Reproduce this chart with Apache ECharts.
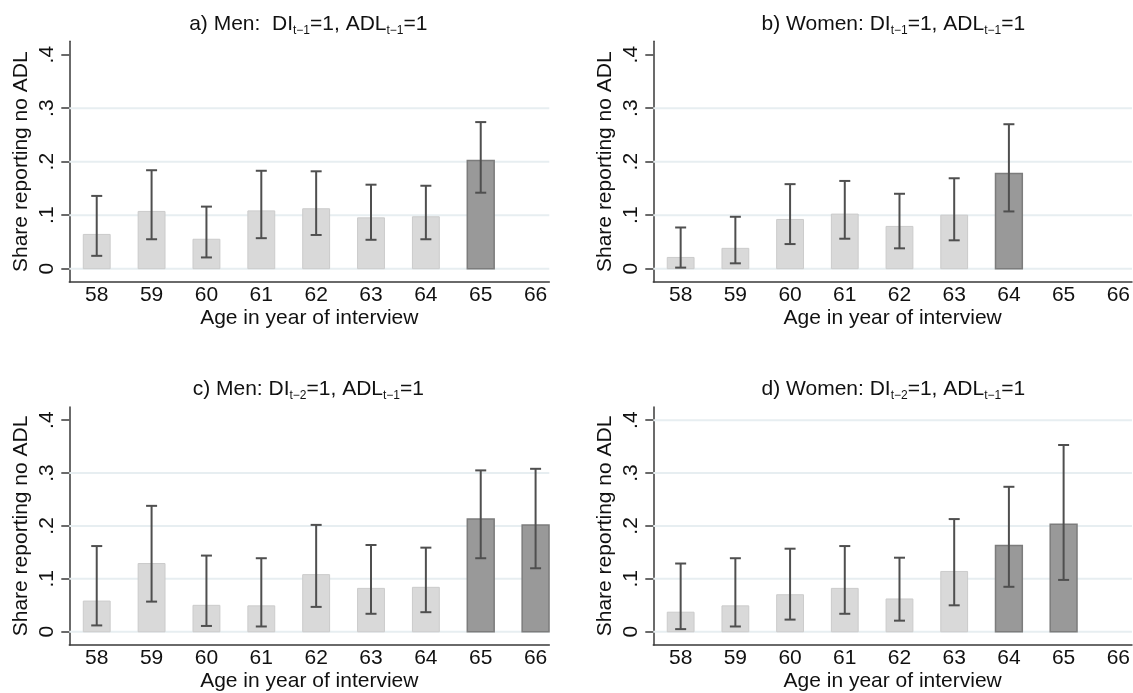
<!DOCTYPE html>
<html>
<head>
<meta charset="utf-8">
<script src="https://cdn.jsdelivr.net/npm/echarts@6/dist/echarts.min.js"></script>
<style>
  html, body { margin: 0; padding: 0; background: #ffffff; }
  #chart { width: 1133px; height: 693px; }
</style>
</head>
<body>
<div id="chart"></div>
<script>
// Ages on the horizontal axis of every panel
const ages = [58, 59, 60, 61, 62, 63, 64, 65, 66];
const yTicks = [0, 0.1, 0.2, 0.3, 0.4];

// a) Men, DI(t-1)=1, ADL(t-1)=1
const menLag1Share = [0.064, 0.107, 0.055, 0.108, 0.112, 0.095, 0.097, 0.202, null];
const menLag1Low   = [0.024, 0.055, 0.021, 0.057, 0.063, 0.054, 0.055, 0.142, null];
const menLag1High  = [0.136, 0.184, 0.116, 0.183, 0.182, 0.157, 0.155, 0.274, null];
const menLag1Dark  = [65];
const menLag1Grid  = [0, 0.1, 0.2, 0.3];

// b) Women, DI(t-1)=1, ADL(t-1)=1
const womenLag1Share = [0.021, 0.038, 0.092, 0.102, 0.079, 0.100, 0.178, null, null];
const womenLag1Low   = [0.002, 0.010, 0.046, 0.056, 0.038, 0.053, 0.107, null, null];
const womenLag1High  = [0.077, 0.097, 0.158, 0.164, 0.140, 0.169, 0.270, null, null];
const womenLag1Dark  = [64];
const womenLag1Grid  = [0, 0.1, 0.2, 0.3];

// c) Men, DI(t-2)=1, ADL(t-1)=1
const menLag2Share = [0.058, 0.129, 0.050, 0.049, 0.108, 0.082, 0.084, 0.213, 0.202];
const menLag2Low   = [0.012, 0.057, 0.011, 0.010, 0.047, 0.034, 0.037, 0.139, 0.120];
const menLag2High  = [0.162, 0.238, 0.144, 0.139, 0.202, 0.164, 0.159, 0.305, 0.308];
const menLag2Dark  = [65, 66];
const menLag2Grid  = [0, 0.1, 0.2, 0.3];

// d) Women, DI(t-2)=1, ADL(t-1)=1
const womenLag2Share = [0.037, 0.049, 0.070, 0.082, 0.062, 0.114, 0.163, 0.203, null];
const womenLag2Low   = [0.005, 0.010, 0.023, 0.034, 0.021, 0.050, 0.085, 0.098, null];
const womenLag2High  = [0.129, 0.139, 0.157, 0.162, 0.140, 0.213, 0.274, 0.353, null];
const womenLag2Dark  = [64, 65];
const womenLag2Grid  = [0, 0.1, 0.2, 0.3, 0.4];

const panelTitles = [
  '{m|a) Men:  DI}{s|t\u22121}{m|=1, ADL}{s|t\u22121}{m|=1}',
  '{m|b) Women: DI}{s|t\u22121}{m|=1, ADL}{s|t\u22121}{m|=1}',
  '{m|c) Men: DI}{s|t\u22122}{m|=1, ADL}{s|t\u22121}{m|=1}',
  '{m|d) Women: DI}{s|t\u22122}{m|=1, ADL}{s|t\u22121}{m|=1}'
];
const xName = 'Age in year of interview';
const yName = 'Share reporting no ADL';

const panels = [
  { share: menLag1Share,   low: menLag1Low,   high: menLag1High,   dark: menLag1Dark,   grid: menLag1Grid },
  { share: womenLag1Share, low: womenLag1Low, high: womenLag1High, dark: womenLag1Dark, grid: womenLag1Grid },
  { share: menLag2Share,   low: menLag2Low,   high: menLag2High,   dark: menLag2Dark,   grid: menLag2Grid },
  { share: womenLag2Share, low: womenLag2Low, high: womenLag2High, dark: womenLag2Dark, grid: womenLag2Grid }
];

// Layout of the 2 x 2 panels
const FONT = "'Liberation Sans', Arial, Helvetica, sans-serif";
const colLeft = [69.3, 653.3];
const rowTop = [41.3, 406.9];
const plotW = 480;
const plotH = 240.75;
const Y_MIN = -0.025, Y_MAX = 0.425;
const X_MIN = 57.5, X_MAX = 66.25;

const LIGHT_FILL = '#d9d9d9', LIGHT_EDGE = '#cbcbcb';
const DARK_FILL = '#999999', DARK_EDGE = '#7c7c7c';
const ERR_COLOR = '#4f4f4f';
const AXIS_COLOR = '#3a3a3a';
const GRID_COLOR = '#e7eef1';

function fmtY(v) {
  if (Math.abs(v) < 1e-9) return '0';
  return v.toFixed(1).replace(/^0/, '');
}

// horizontal reference line across the whole plot area
function renderGridLine(params, api) {
  const cs = params.coordSys;
  const y = api.coord([X_MIN, api.value(0)])[1];
  return {
    type: 'line',
    shape: { x1: cs.x, y1: y, x2: cs.x + cs.width, y2: y },
    style: { stroke: GRID_COLOR, lineWidth: 2 }
  };
}

function renderBar(params, api) {
  const x = api.value(0), v = api.value(1), dark = api.value(2);
  const base = api.coord([x, 0]);
  const top = api.coord([x, v]);
  const w = api.size([0.49, 0])[0];
  return {
    type: 'rect',
    shape: { x: base[0] - w / 2, y: top[1], width: w, height: base[1] - top[1] },
    style: {
      fill: dark ? DARK_FILL : LIGHT_FILL,
      stroke: dark ? DARK_EDGE : LIGHT_EDGE,
      lineWidth: dark ? 1.5 : 1
    }
  };
}

function renderErr(params, api) {
  const x = api.value(0);
  const pLo = api.coord([x, api.value(1)]);
  const pHi = api.coord([x, api.value(2)]);
  const half = 5.5;
  const st = { stroke: ERR_COLOR, lineWidth: 2 };
  return {
    type: 'group',
    children: [
      { type: 'line', shape: { x1: pLo[0], y1: pLo[1], x2: pHi[0], y2: pHi[1] }, style: st },
      { type: 'line', shape: { x1: pHi[0] - half, y1: pHi[1], x2: pHi[0] + half, y2: pHi[1] }, style: st },
      { type: 'line', shape: { x1: pLo[0] - half, y1: pLo[1], x2: pLo[0] + half, y2: pLo[1] }, style: st }
    ]
  };
}

const grids = [], xAxes = [], yAxes = [], series = [], titles = [];

panels.forEach((p, i) => {
  const col = i % 2, row = Math.floor(i / 2);
  const left = colLeft[col], top = rowTop[row];
  grids.push({ left: left, top: top, width: plotW, height: plotH, containLabel: false });

  titles.push({
    text: panelTitles[i],
    left: left + plotW / 2 - (col === 0 ? 1 : 0),
    top: top - 30,
    textAlign: 'center',
    padding: 0,
    textStyle: {
      fontWeight: 'normal',
      rich: {
        m: { fontFamily: FONT, fontSize: 21, fontWeight: 'normal', lineHeight: 25, color: '#111111' },
        s: { fontFamily: FONT, fontSize: 12, fontWeight: 'normal', lineHeight: 17, verticalAlign: 'bottom', color: '#111111' }
      }
    }
  });

  xAxes.push({
    type: 'value', gridIndex: i, min: X_MIN, max: X_MAX,
    name: xName, nameLocation: 'middle', nameGap: 26,
    nameTextStyle: { fontFamily: FONT, fontSize: 21, color: '#111111' },
    axisLine: { show: true, onZero: false, lineStyle: { color: AXIS_COLOR, width: 1.5 } },
    axisTick: { show: false, customValues: ages },
    axisLabel: { customValues: ages, fontFamily: FONT, fontSize: 21, color: '#111111', margin: 3 },
    splitLine: { show: false }
  });

  yAxes.push({
    type: 'value', gridIndex: i, min: Y_MIN, max: Y_MAX,
    name: yName, nameLocation: 'middle', nameGap: 38, nameRotate: 90,
    nameTextStyle: { fontFamily: FONT, fontSize: 21, color: '#111111' },
    axisLine: { show: true, lineStyle: { color: AXIS_COLOR, width: 1.5 } },
    axisTick: { show: true, length: 8, customValues: yTicks, lineStyle: { color: AXIS_COLOR, width: 1.5 } },
    axisLabel: { customValues: yTicks, rotate: 90, formatter: fmtY, fontFamily: FONT, fontSize: 21, color: '#111111', margin: 12 },
    splitLine: { show: false }
  });

  series.push({
    type: 'custom', xAxisIndex: i, yAxisIndex: i, z: 1, silent: true,
    renderItem: renderGridLine, data: p.grid.map(v => [v]),
    encode: { y: 0 }, animation: false
  });

  const barData = [], errData = [];
  ages.forEach((a, k) => {
    if (p.share[k] == null) return;
    barData.push([a, p.share[k], p.dark.indexOf(a) >= 0 ? 1 : 0]);
    errData.push([a, p.low[k], p.high[k]]);
  });

  series.push({
    type: 'custom', xAxisIndex: i, yAxisIndex: i, z: 2,
    renderItem: renderBar, data: barData,
    encode: { x: 0, y: 1 }, animation: false
  });
  series.push({
    type: 'custom', xAxisIndex: i, yAxisIndex: i, z: 3,
    renderItem: renderErr, data: errData,
    encode: { x: 0, y: [1, 2] }, animation: false
  });
});

const chart = echarts.init(document.getElementById('chart'), null, { renderer: 'canvas' });
chart.setOption({
  backgroundColor: '#ffffff',
  animation: false,
  title: titles,
  grid: grids,
  xAxis: xAxes,
  yAxis: yAxes,
  series: series
});
</script>
</body>
</html>
